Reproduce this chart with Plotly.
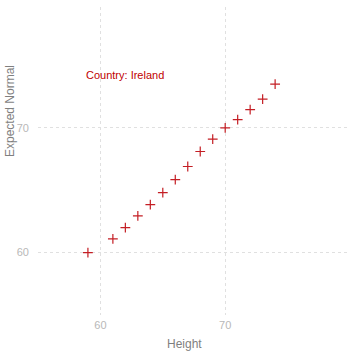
import plotly.graph_objects as go

heights = [59, 61, 62, 63, 64, 65, 66, 67, 68, 69, 70, 71, 72, 73, 74]
expected = [60.0, 61.1, 62.0, 62.95, 63.85, 64.8, 65.85, 66.9, 68.1, 69.1, 70.0, 70.65, 71.45, 72.3, 73.5]
label_text = "Country: Ireland"
label_x = 62
label_y = 74.25
x_ticks = [60, 70]
y_ticks = [60, 70]

red = "#c41e24"
fig = go.Figure()
fig.add_trace(go.Scatter(
    x=heights, y=expected, mode="markers",
    marker=dict(symbol="cross-thin-open", size=7, line=dict(color=red, width=1.2), color=red),
    showlegend=False, hoverinfo="x+y"))

fig.add_annotation(x=label_x, y=label_y, text=label_text, showarrow=False,
                   font=dict(color="#c00000", size=11), xanchor="center", yanchor="middle")
fig.add_annotation(x=0.471, y=-0.094, xref="paper", yref="paper", text="Height", showarrow=False,
                   font=dict(color="#7f7f7f", size=12), xanchor="center", yanchor="middle")
fig.add_annotation(x=-0.09, y=0.662, xref="paper", yref="paper", text="Expected Normal", showarrow=False,
                   textangle=-90, font=dict(color="#7f7f7f", size=12), xanchor="center", yanchor="middle")

axis_common = dict(showgrid=True, gridcolor="#e0e0e0", griddash="3px,3px", gridwidth=1, automargin=False,
                   zeroline=False, showline=False, ticks="", ticklen=0,
                   tickfont=dict(color="#b8b8b8", size=11))
fig.update_xaxes(range=[55, 80], tickvals=x_ticks, ticklabelstandoff=2, **axis_common)
fig.update_yaxes(range=[55, 79.68], tickvals=y_ticks, ticklabelstandoff=8, **axis_common)

fig.update_layout(template="none", width=357, height=358, margin=dict(l=38, r=7, t=7, b=43),
                  plot_bgcolor="white", paper_bgcolor="white",
                  font=dict(family="Liberation Sans, Arial, sans-serif"))
fig.write_html("out.html", config={"displayModeBar": False},
               post_script="document.body.style.margin='0';")
